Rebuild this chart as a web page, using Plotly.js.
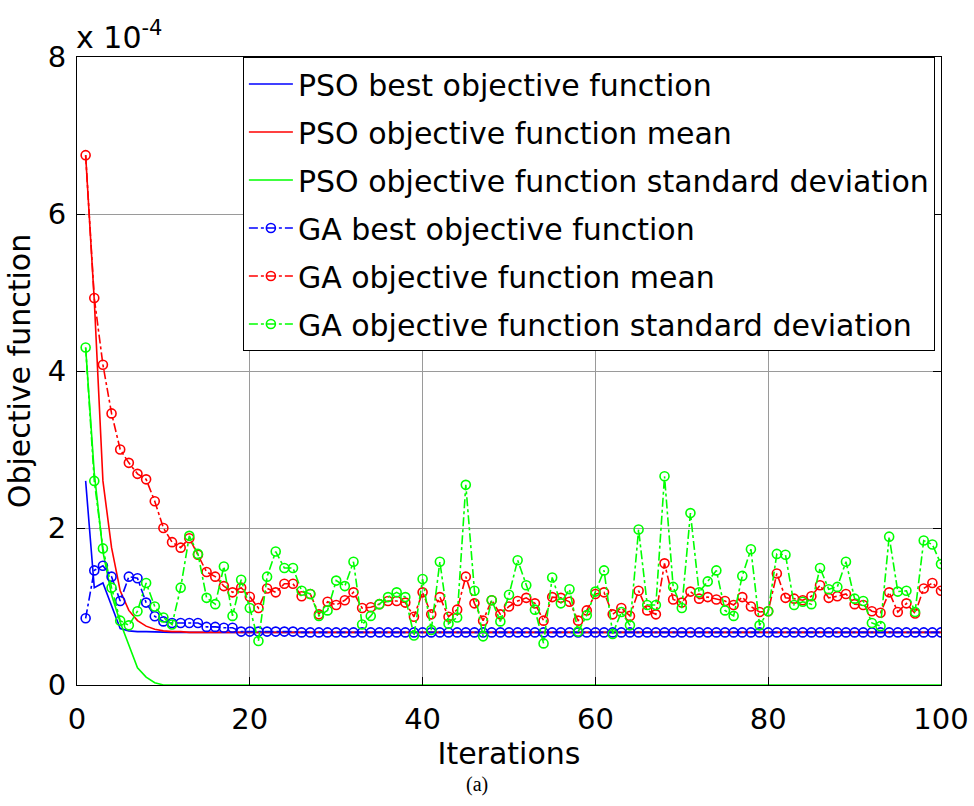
<!DOCTYPE html>
<html>
<head>
<meta charset="utf-8">
<script src="https://cdn.plot.ly/plotly-3.0.1.min.js"></script>
<style>html,body{margin:0;padding:0;background:#fff;}</style>
</head>
<body>
<div id="chart" style="width:974px;height:806px;"></div>
<script>
// Values in units of 1e-4
const iterations = [1,2,3,4,5,6,7,8,9,10,11,12,13,14,15,16,17,18,19,20,21,22,23,24,25,26,27,28,29,30,31,32,33,34,35,36,37,38,39,40,41,42,43,44,45,46,47,48,49,50,51,52,53,54,55,56,57,58,59,60,61,62,63,64,65,66,67,68,69,70,71,72,73,74,75,76,77,78,79,80,81,82,83,84,85,86,87,88,89,90,91,92,93,94,95,96,97,98,99,100];

const psoBest = [2.6,1.24,1.3,1.0,0.72,0.69,0.68,0.68,0.675,0.675,0.67,0.67,0.67,0.67,0.67,0.67,0.67,0.67,0.67,0.67,
0.67,0.67,0.67,0.67,0.67,0.67,0.67,0.67,0.67,0.67,0.67,0.67,0.67,0.67,0.67,0.67,0.67,0.67,0.67,0.67,
0.67,0.67,0.67,0.67,0.67,0.67,0.67,0.67,0.67,0.67,0.67,0.67,0.67,0.67,0.67,0.67,0.67,0.67,0.67,0.67,
0.67,0.67,0.67,0.67,0.67,0.67,0.67,0.67,0.67,0.67,0.67,0.67,0.67,0.67,0.67,0.67,0.67,0.67,0.67,0.67,
0.67,0.67,0.67,0.67,0.67,0.67,0.67,0.67,0.67,0.67,0.67,0.67,0.67,0.67,0.67,0.67,0.67,0.67,0.67,0.67];

const psoMean = [6.75,4.9,2.6,1.75,1.2,0.95,0.82,0.75,0.71,0.69,0.68,0.68,0.67,0.67,0.67,0.67,0.67,0.67,0.67,0.67,
0.67,0.67,0.67,0.67,0.67,0.67,0.67,0.67,0.67,0.67,0.67,0.67,0.67,0.67,0.67,0.67,0.67,0.67,0.67,0.67,
0.67,0.67,0.67,0.67,0.67,0.67,0.67,0.67,0.67,0.67,0.67,0.67,0.67,0.67,0.67,0.67,0.67,0.67,0.67,0.67,
0.67,0.67,0.67,0.67,0.67,0.67,0.67,0.67,0.67,0.67,0.67,0.67,0.67,0.67,0.67,0.67,0.67,0.67,0.67,0.67,
0.67,0.67,0.67,0.67,0.67,0.67,0.67,0.67,0.67,0.67,0.67,0.67,0.67,0.67,0.67,0.67,0.67,0.67,0.67,0.67];

const psoStd = [4.3,2.7,1.7,1.15,0.8,0.5,0.22,0.1,0.03,0,0,0,0,0,0,0,0,0,0,0,
0,0,0,0,0,0,0,0,0,0,0,0,0,0,0,0,0,0,0,0,
0,0,0,0,0,0,0,0,0,0,0,0,0,0,0,0,0,0,0,0,
0,0,0,0,0,0,0,0,0,0,0,0,0,0,0,0,0,0,0,0,
0,0,0,0,0,0,0,0,0,0,0,0,0,0,0,0,0,0,0,0];

const gaBest = [0.85,1.46,1.52,1.38,1.07,1.38,1.36,1.05,0.875,0.81,0.79,0.79,0.79,0.79,0.74,0.74,0.73,0.73,0.68,0.68,
0.68,0.68,0.68,0.68,0.68,0.67,0.67,0.67,0.67,0.67,0.67,0.67,0.67,0.67,0.67,0.67,0.67,0.67,0.67,0.67,
0.67,0.67,0.67,0.67,0.67,0.67,0.67,0.67,0.67,0.67,0.67,0.67,0.67,0.67,0.67,0.67,0.67,0.67,0.67,0.67,
0.67,0.67,0.67,0.67,0.67,0.67,0.67,0.67,0.67,0.67,0.67,0.67,0.67,0.67,0.67,0.67,0.67,0.67,0.67,0.67,
0.67,0.67,0.67,0.67,0.67,0.67,0.67,0.67,0.67,0.67,0.67,0.67,0.67,0.67,0.67,0.67,0.67,0.67,0.67,0.67];

const gaMean = [6.75,4.93,4.08,3.46,3.0,2.83,2.69,2.62,2.34,2.0,1.82,1.75,1.87,1.66,1.44,1.38,1.26,1.18,1.24,1.125,
0.98,1.23,1.18,1.29,1.29,1.13,1.16,0.9,1.06,1.02,1.08,1.18,0.98,0.99,1.03,1.07,1.07,1.05,0.87,1.18,
0.9,1.12,0.87,0.96,1.38,1.04,0.82,1.08,0.9,1.0,1.07,1.11,1.04,0.82,1.12,1.11,1.06,0.82,0.95,1.16,
1.18,0.9,0.98,0.88,1.2,0.95,0.9,1.55,1.09,1.05,1.19,1.10,1.12,1.09,1.07,1.02,1.12,1.0,0.93,0.94,
1.42,1.11,1.1,1.08,1.13,1.27,1.11,1.13,1.16,1.03,1.02,0.94,0.92,1.18,0.93,1.04,0.91,1.23,1.30,1.2];

const gaStd = [4.3,2.6,1.74,1.24,0.82,0.76,0.94,1.30,1.0,0.86,0.77,1.24,1.9,1.67,1.11,1.03,1.51,0.88,1.34,0.98,
0.56,1.38,1.70,1.49,1.49,1.2,1.16,0.88,0.95,1.33,1.26,1.57,0.77,0.88,1.03,1.12,1.18,1.12,0.63,1.35,
0.70,1.57,0.78,0.86,2.55,1.2,0.62,1.08,0.81,1.15,1.59,1.27,0.96,0.53,1.37,1.04,1.22,0.68,0.89,1.19,
1.46,0.65,0.93,0.76,1.98,1.02,1.02,2.66,1.25,0.98,2.19,1.18,1.32,1.46,0.95,0.88,1.39,1.73,0.76,0.94,
1.67,1.66,1.02,1.06,1.03,1.49,1.22,1.25,1.57,1.10,1.07,0.79,0.75,1.89,1.19,1.2,0.93,1.84,1.79,1.54];

const seriesNames = [
  "PSO best objective function",
  "PSO objective function mean",
  "PSO objective function standard deviation",
  "GA best objective function",
  "GA objective function mean",
  "GA objective function standard deviation"
];
const xTicks = [0,20,40,60,80,100];
const yTicks = [0,2,4,6,8];

const BLUE = '#0000ff', RED = '#ff0000', GREEN = '#00ff00';

function solid(y, name, color, g) {
  return {x: iterations, y: y, name: name, type: 'scatter', mode: 'lines', legendgroup: g,
    line: {color: color, width: 1.6}};
}
function ga(y, name, color, g) {
  return {x: iterations, y: y, name: name, type: 'scatter', mode: 'lines+markers', legendgroup: g,
    line: {color: color, width: 1.6, dash: 'dashdot'},
    marker: {symbol: 'circle-open', size: 9, color: color, line: {color: color, width: 1.6}}};
}

const data = [
  solid(psoBest, seriesNames[0], BLUE, 'a'),
  solid(psoMean, seriesNames[1], RED, 'b'),
  solid(psoStd, seriesNames[2], GREEN, 'c'),
  ga(gaBest, seriesNames[3], BLUE, 'd'),
  ga(gaMean, seriesNames[4], RED, 'e'),
  ga(gaStd, seriesNames[5], GREEN, 'f')
];

const FONT = 'DejaVu Sans, Arial, sans-serif';
const axisCommon = {
  showline: true, linecolor: '#000', linewidth: 1, mirror: 'ticks',
  ticks: 'inside', ticklen: 8, tickcolor: '#000', tickwidth: 1,
  showgrid: true, gridcolor: '#9a9a9a', gridwidth: 1,
  zeroline: false,
  tickfont: {family: FONT, size: 29, color: '#000'}
};

const layout = {
  width: 974, height: 806,
  margin: {l: 77, r: 33, t: 57, b: 121},
  paper_bgcolor: '#fff', plot_bgcolor: '#fff',
  font: {family: FONT, color: '#000'},
  showlegend: true,
  legend: {
    x: 0.192, y: 1, xanchor: 'left', yanchor: 'top',
    bgcolor: '#fff', bordercolor: '#000', borderwidth: 1,
    font: {family: FONT, size: 30, color: '#000'},
    itemwidth: 44,
    tracegroupgap: 6, traceorder: 'grouped'
  },
  xaxis: Object.assign({}, axisCommon, {
    range: [0, 100], tickvals: xTicks, ticktext: xTicks.map(String),
    ticklabelstandoff: 8,
    title: {text: 'Iterations', font: {family: FONT, size: 30, color: '#000'}, standoff: 0}
  }),
  yaxis: Object.assign({}, axisCommon, {
    range: [0, 8], tickvals: yTicks, ticktext: yTicks.map(String),
    ticklabelstandoff: 4,
    title: {text: 'Objective function', font: {family: FONT, size: 30, color: '#000'}, standoff: 8}
  }),
  annotations: [
    {xref: 'paper', yref: 'paper', x: -0.003, y: 1, xanchor: 'left', yanchor: 'bottom',
     text: 'x 10<sup>-4</sup>', showarrow: false, font: {family: FONT, size: 30, color: '#000'}},
    {xref: 'paper', yref: 'paper', x: 0.463, y: -0.159, xanchor: 'center', yanchor: 'middle',
     text: '(a)', showarrow: false, font: {family: 'Liberation Serif, Times New Roman, serif', size: 20, color: '#000'}}
  ]
};

Plotly.newPlot('chart', data, layout, {displayModeBar: false, staticPlot: true});
</script>
</body>
</html>
